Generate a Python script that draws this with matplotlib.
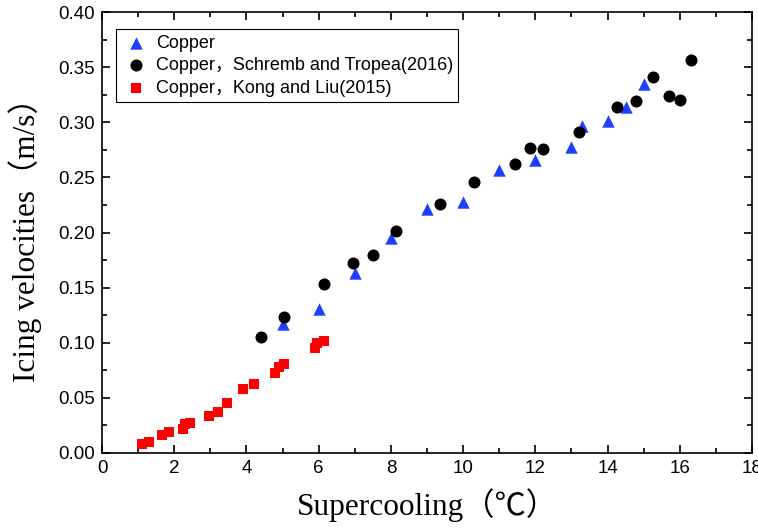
import numpy as np
import matplotlib
matplotlib.use("Agg")
import matplotlib.pyplot as plt
from matplotlib.ticker import MultipleLocator

# Copper (blue triangles)
cu_x = [5.0, 6.0, 7.0, 8.0, 9.0, 10.0, 11.0, 12.0, 13.0, 13.3, 14.0, 14.5, 15.0]
cu_y = [0.117, 0.131, 0.163, 0.195, 0.221, 0.228, 0.257, 0.266, 0.278, 0.297, 0.301, 0.314, 0.335]

# Copper, Schremb and Tropea (2016) (black circles)
st_x = [4.4, 5.05, 6.15, 6.95, 7.5, 8.15, 9.35, 10.3, 11.45, 11.85, 12.2, 13.2,
        14.25, 14.8, 15.25, 15.7, 16.0, 16.3]
st_y = [0.105, 0.123, 0.153, 0.172, 0.180, 0.201, 0.226, 0.246, 0.262, 0.277, 0.276, 0.291,
        0.314, 0.319, 0.341, 0.324, 0.320, 0.357]

# Copper, Kong and Liu (2015) (red squares)
kl_x = [1.1, 1.3, 1.65, 1.85, 2.25, 2.3, 2.45, 2.95, 3.2, 3.45, 3.9, 4.2,
        4.8, 4.9, 5.05, 5.9, 5.95, 6.15]
kl_y = [0.008, 0.010, 0.016, 0.019, 0.022, 0.026, 0.027, 0.034, 0.037, 0.045, 0.058, 0.063,
        0.073, 0.078, 0.081, 0.095, 0.100, 0.102]

sans = ['Liberation Sans', 'Noto Sans CJK SC']
serif = ['Liberation Serif', 'Noto Sans CJK SC']

fig = plt.figure(figsize=(7.58, 5.29), dpi=100)
ax = fig.add_axes([0.1346, 0.1437, 0.8574, 0.8333])

ax.scatter(cu_x, cu_y, marker='^', s=80, color='#1f3fff', linewidths=0, label='Copper', zorder=3)
ax.scatter(st_x, st_y, marker='o', s=75, color='black', linewidths=0,
           label='Copper，Schremb and Tropea(2016)', zorder=3)
ax.scatter(kl_x, kl_y, marker='s', s=60, color='#ff0000', linewidths=0,
           label='Copper，Kong and Liu(2015)', zorder=3)

ax.set_xlim(0, 18)
ax.set_ylim(0, 0.40)
ax.xaxis.set_major_locator(MultipleLocator(2))
ax.xaxis.set_minor_locator(MultipleLocator(1))
ax.yaxis.set_major_locator(MultipleLocator(0.05))
ax.yaxis.set_minor_locator(MultipleLocator(0.025))
ax.yaxis.set_major_formatter(matplotlib.ticker.FormatStrFormatter('%.2f'))
ax.tick_params(which='both', direction='in', top=True, right=True, width=1.2)
ax.tick_params(which='major', length=6, labelsize=13.5, pad=5)
ax.tick_params(which='minor', length=3.5)
for lab in ax.get_xticklabels() + ax.get_yticklabels():
    lab.set_family(sans)
for sp in ax.spines.values():
    sp.set_linewidth(1.2)

ax.set_xlabel('Supercooling（℃）', family=serif, fontsize=22.5, labelpad=8)
ax.set_ylabel('Icing velocities（m/s）', family=serif, fontsize=22.5, labelpad=12)

leg = ax.legend(loc='upper left', bbox_to_anchor=(0.0215, 0.961), borderaxespad=0,
                prop={'family': sans, 'size': 13}, fancybox=False, edgecolor='black',
                framealpha=1, handletextpad=0.3, handlelength=1.6, borderpad=0.3,
                labelspacing=0.3, scatterpoints=1)
leg.get_frame().set_linewidth(0.8)

fig.savefig('out.png', dpi=100)
